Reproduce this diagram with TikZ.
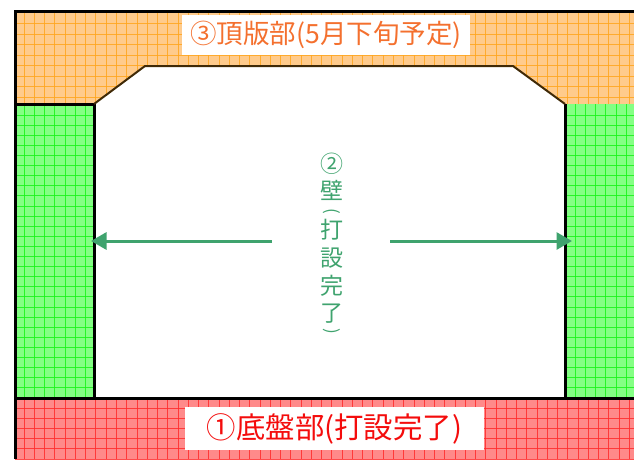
\documentclass[tikz,border=0pt]{standalone}
\usepackage{fontspec}
\setmainfont{Noto Sans CJK JP}
\usetikzlibrary{arrows.meta}
\definecolor{ofill}{HTML}{FFCB8C}
\definecolor{oline}{HTML}{FFA61E}
\definecolor{gfill}{HTML}{84FF84}
\definecolor{gline}{HTML}{18F418}
\definecolor{rfill}{HTML}{FF8A8A}
\definecolor{rline}{HTML}{FF2C2C}
\definecolor{otext}{HTML}{F4702E}
\definecolor{gtext}{HTML}{3FA36E}
\definecolor{rtext}{HTML}{F40C0C}
\tikzset{
  x=1pt,y=-1pt,
  outline/.style={line width=3pt,black},
  gridline/.style={line width=0.7pt,opacity=0.85},
  toplabel/.style={fill=white,inner sep=0pt,font=\fontsize{26.5}{26.5}\selectfont},
  botlabel/.style={fill=white,inner sep=0pt,font=\fontsize{29.4}{29.4}\selectfont},
  vchar/.style={text=gtext,inner sep=0pt,text height=17.5pt,text depth=2.5pt,font=\fontsize{23}{23}\selectfont},
  vparen/.style={text=gtext,inner sep=0pt,rotate=-90,text height=4pt,text depth=1pt,font=\fontsize{17}{17}\selectfont},
  wallarrow/.style={line width=3pt,gtext,-{Triangle[length=15.5pt,width=17pt]}}
}
\begin{document}
\begin{tikzpicture}
\useasboundingbox (0,0) rectangle (634,459);
% fills
\fill[ofill] (15,12) -- (634,12) -- (634,104) -- (565,104) -- (513,66) -- (145,66) -- (94,104) -- (15,104) -- cycle;
\fill[gfill] (15,104) rectangle (94,398);
\fill[gfill] (565,104) rectangle (634,398);
\fill[rfill] (15,398) rectangle (634,459);
% grids
\begin{scope}
\clip (15,12) -- (634,12) -- (634,104) -- (565,104) -- (513,66) -- (145,66) -- (94,104) -- (15,104) -- cycle;
\foreach \k in {0,...,59} \draw[gridline,oline] ({24+10.26*\k},12) -- ({24+10.26*\k},104);
\foreach \k in {0,...,7} \draw[gridline,oline] (15,{23.5+10.5*\k}) -- (634,{23.5+10.5*\k});
\end{scope}
\begin{scope}
\clip (15,104) rectangle (94,398);
\foreach \k in {0,...,6} \draw[gridline,gline] ({24+10.26*\k},104) -- ({24+10.26*\k},398);
\foreach \k in {0,...,28} \draw[gridline,gline] (15,{115+10.1*\k}) -- (94,{115+10.1*\k});
\end{scope}
\begin{scope}
\clip (565,104) rectangle (634,398);
\foreach \k in {0,...,6} \draw[gridline,gline] ({575+10.26*\k},104) -- ({575+10.26*\k},398);
\foreach \k in {0,...,28} \draw[gridline,gline] (565,{115+10.1*\k}) -- (634,{115+10.1*\k});
\end{scope}
\begin{scope}
\clip (15,398) rectangle (634,459);
\foreach \k in {0,...,59} \draw[gridline,rline] ({24+10.26*\k},398) -- ({24+10.26*\k},459);
\foreach \k in {0,...,5} \draw[gridline,rline] (15,{408+10.2*\k}) -- (634,{408+10.2*\k});
\end{scope}
% outlines
\draw[outline] (634,11) -- (15,11) -- (15,459);
\draw[outline] (15,104) -- (94,104) -- (94,398);
\draw[outline] (565,104) -- (565,398);
\draw[outline] (15,398) -- (634,398);
\draw[line width=2pt,black!75!oline] (94,104) -- (145,66) -- (513,66) -- (565,104);
% labels
\node[toplabel,text=otext,minimum width=288pt,minimum height=40pt] (top) at (326,35) {③頂版部(5月下旬予定)};
\node[botlabel,text=rtext,minimum width=299pt,minimum height=43pt] (bottom) at (334.5,428.5) {①底盤部(打設完了)};
% vertical text
\node[vchar] (v0) at (332,165) {②};
\node[vchar] (v1) at (332,192) {壁};
\node[vparen] (v2) at (328,211.5) {(};
\node[vchar] (v3) at (332,231) {打};
\node[vchar] (v4) at (332,259) {設};
\node[vchar] (v5) at (332,287) {完};
\node[vchar] (v6) at (332,314) {了};
\node[vparen] (v7) at (328,331) {)};
% arrows
\coordinate (la) at (272,241);
\coordinate (lb) at (91,241);
\coordinate (ra) at (390,241);
\coordinate (rb) at (572,241);
\draw[wallarrow] (la) -- (lb);
\draw[wallarrow] (ra) -- (rb);
\end{tikzpicture}
\end{document}
